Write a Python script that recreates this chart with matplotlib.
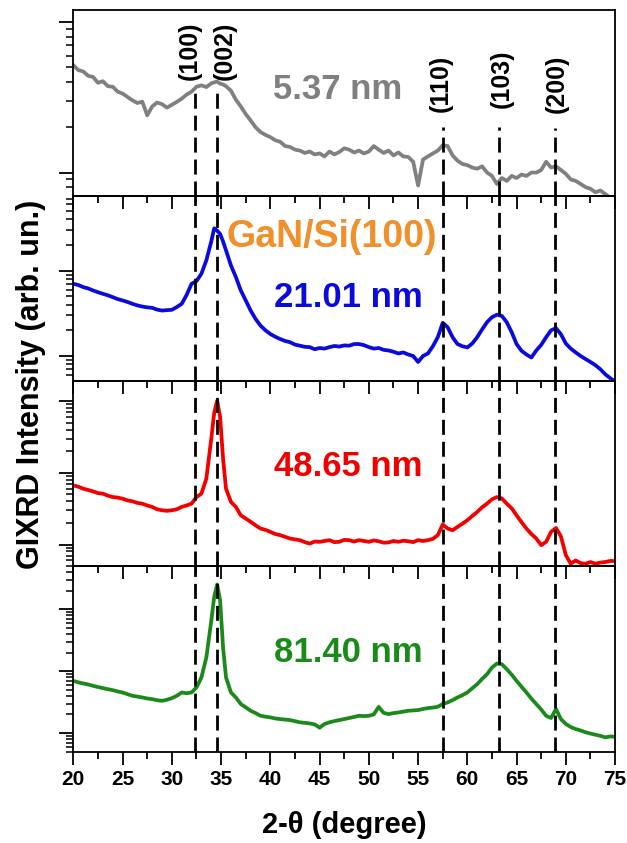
import numpy as np
import matplotlib
matplotlib.use('Agg')
import matplotlib.pyplot as plt
from matplotlib.ticker import MultipleLocator, LogLocator, NullFormatter

plt.rcParams['font.family'] = ['Liberation Sans', 'DejaVu Sans']
plt.rcParams['font.weight'] = 'bold'

# 2-theta sampling (finer around the (002) peak)
two_theta = np.concatenate([np.arange(20, 34.01, 0.5), [34.3, 34.6, 34.9, 35.2],
                            np.arange(35.5, 75.01, 0.5)])

# intensities (arb. un.), top to bottom
gaN_537 = [517, 480, 470, 440, 432, 395, 405, 375, 372, 345,
           335, 318, 302, 290, 296, 240, 275, 292, 285, 270,
           282, 295, 310, 330, 345, 372, 380, 370, 392,
           398, 402, 390, 385,
           375, 350, 305, 275, 245, 222, 200, 186, 178, 172,
           164, 160, 150, 148, 142, 140, 135, 138, 132, 134,
           128, 138, 132, 137, 145, 142, 136, 140, 134, 138,
           150, 142, 135, 140, 130, 136, 128, 127, 118, 82,
           122, 128, 134, 140, 152, 150, 130, 120, 114, 112,
           108, 106, 110, 100, 95, 84, 92, 88, 95, 92,
           97, 95, 100, 100, 104, 118, 108, 110, 104, 98,
           90, 88, 84, 80, 78, 74, 76, 72, 68, 66]

gaN_2101 = [703, 680, 643, 620, 587, 560, 536, 515, 490, 465,
            448, 430, 409, 392, 380, 372, 367, 350, 341, 345,
            348, 375, 409, 520, 703, 756, 922, 1324, 2200,
            3150, 2950, 2700, 2200,
            1734, 1155, 842, 587, 448, 341, 272, 227, 200, 181,
            168, 158, 150, 145, 136, 132, 128, 127, 120, 124,
            122, 127, 131, 129, 133, 132, 138, 138, 134, 127,
            122, 124, 118, 116, 112, 107, 110, 104, 100, 85,
            100, 107, 130, 166, 245, 217, 166, 138, 130, 126,
            140, 166, 205, 249, 285, 305, 295, 249, 190, 138,
            115, 104, 96, 116, 135, 166, 200, 212, 180, 140,
            122, 110, 100, 92, 85, 78, 70, 61, 55, 50]

gaN_4865 = [667, 640, 600, 575, 550, 520, 511, 480, 459, 450,
            435, 412, 400, 380, 371, 350, 334, 310, 300, 295,
            300, 310, 334, 350, 371, 459, 511, 826, 2966,
            6800, 10110, 6000, 1565,
            600, 392, 334, 255, 230, 207, 185, 167, 160, 150,
            140, 135, 128, 121, 118, 115, 108, 103, 110, 109,
            112, 115, 108, 109, 116, 115, 110, 115, 112, 109,
            114, 111, 106, 107, 112, 109, 113, 111, 108, 115,
            112, 115, 120, 135, 190, 167, 158, 176, 195, 218,
            250, 284, 330, 371, 426, 459, 440, 371, 320, 255,
            205, 167, 140, 121, 98, 109, 150, 170, 130, 71,
            54, 60, 55, 54, 57, 54, 56, 57, 59, 59]

gaN_8140 = [698, 660, 633, 610, 580, 555, 532, 512, 494, 470,
            453, 425, 400, 388, 376, 362, 353, 340, 332, 345,
            367, 400, 453, 440, 453, 546, 791, 1663, 6486,
            16000, 25300, 14000, 2410,
            791, 453, 376, 294, 260, 229, 210, 190, 184, 179,
            172, 168, 165, 162, 155, 149, 146, 143, 138, 122,
            140, 149, 156, 162, 168, 175, 182, 190, 188, 190,
            200, 265, 212, 202, 210, 215, 222, 229, 232, 235,
            245, 253, 258, 266, 294, 313, 340, 376, 410, 453,
            530, 617, 750, 895, 1146, 1330, 1297, 1078, 880, 698,
            560, 453, 360, 294, 240, 190, 175, 244, 168, 140,
            125, 116, 110, 103, 98, 94, 90, 85, 88, 87]

series = [gaN_537, gaN_2101, gaN_4865, gaN_8140]
thickness = ['5.37 nm', '21.01 nm', '48.65 nm', '81.40 nm']
colors = ['#808080', '#0a0ade', '#f20000', '#1b8a1b']
ylims = [(70.3, 1202), (50.8, 7621), (49.4, 18970), (49.4, 49400)]
label_y = [0.57, 0.449, 0.538, 0.538]

peaks = ['(100)', '(002)', '(110)', '(103)', '(200)']
peak_pos = [32.4, 34.6, 57.5, 63.2, 68.9]
peak_label_x = [31.82, 35.37, 57.32, 63.54, 69.1]
peak_label_y = [0.622, 0.622, 0.449, 0.47, 0.443]
dash_top = [0.562, 0.562, 0.368, 0.37, 0.362]

fig, axes = plt.subplots(4, 1, sharex=True, figsize=(6.27, 8.43), dpi=100,
                         gridspec_kw=dict(hspace=0))
fig.subplots_adjust(left=0.117, right=0.981, top=0.988, bottom=0.108)

for i, ax in enumerate(axes):
    ax.set_facecolor('none')
    ax.plot(two_theta, series[i], color=colors[i], lw=2.7, zorder=2)
    ax.set_yscale('log')
    ax.set_ylim(*ylims[i])
    ax.set_xlim(20, 75)
    for j, xp in enumerate(peak_pos):
        top = dash_top[j] if i == 0 else 1
        ax.axvline(xp, ymin=0, ymax=top, color='black', lw=2,
                   linestyle=(0, (5.4, 2.5)), zorder=3)
    ax.text(47.9 if i > 0 else 46.87, label_y[i], thickness[i], color=colors[i],
            fontsize=25, fontweight='bold', ha='center', va='center',
            transform=ax.get_xaxis_transform())
    ax.xaxis.set_major_locator(MultipleLocator(5))
    ax.xaxis.set_minor_locator(MultipleLocator(2.5))
    ax.yaxis.set_major_locator(LogLocator(base=10))
    ax.yaxis.set_minor_locator(LogLocator(base=10, subs=np.arange(2, 10)))
    ax.yaxis.set_major_formatter(NullFormatter())
    ax.yaxis.set_minor_formatter(NullFormatter())
    ax.tick_params(axis='x', which='major', direction='out', length=9, width=1.3,
                   top=False, labelsize=15, pad=4)
    ax.tick_params(axis='x', which='minor', direction='out', length=5, width=1.3, top=False)
    ax.tick_params(axis='y', which='major', direction='out', length=10, width=1.3, right=False)
    ax.tick_params(axis='y', which='minor', direction='out', length=5, width=1.1, right=False)
    for s in ax.spines.values():
        s.set_linewidth(1.3)

for j, name in enumerate(peaks):
    axes[0].text(peak_label_x[j], peak_label_y[j], name, rotation=90, fontsize=18,
                 fontweight='bold', ha='center', va='bottom',
                 transform=axes[0].get_xaxis_transform())

axes[1].text(46.19, 0.778, 'GaN/Si(100)', color='#f0902a', fontsize=27, fontweight='bold',
             ha='center', va='center', transform=axes[1].get_xaxis_transform())

fig.text(0.049, 0.5445, 'GIXRD Intensity (arb. un.)', rotation=90, fontsize=22,
         fontweight='bold', ha='center', va='center')
fig.text(0.549, 0.021, '2-θ (degree)', fontsize=21, fontweight='bold',
         ha='center', va='center')

fig.savefig('out.png', dpi=100)
